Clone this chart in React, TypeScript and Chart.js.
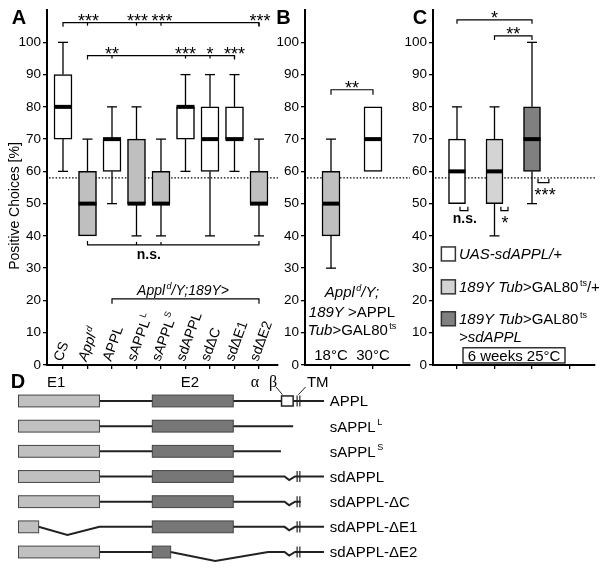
import React, { useEffect, useRef } from "react";
import { Chart, registerables } from "chart.js";
Chart.register(...registerables);

const FONT = "'Liberation Sans', Arial, Helvetica, sans-serif";
const SERIF = "'Liberation Serif', 'DejaVu Serif', serif";
const CHANCE = 58;
const Y_MAX_LABEL = 100;

// ---------------- Panel A data ----------------
const aNames = ["CS", "Appl", "APPL", "sAPPL", "sAPPL", "sdAPPL", "sdΔC", "sdΔE1", "sdΔE2"];
const aSup = ["", "d", "", "L", "S", "", "", "", ""];
const aItalic = [false, true, false, false, false, false, false, false, false];
const aMin = [60, 40, 50, 40, 40, 60, 40, 60, 40];
const aQ1 = [70, 40, 60, 50, 50, 70, 60, 70, 50];
const aMed = [80, 50, 70, 50, 50, 80, 70, 70, 50];
const aQ3 = [90, 60, 70, 70, 60, 80, 80, 80, 60];
const aMax = [100, 70, 80, 80, 70, 90, 90, 90, 70];
const aFill = ["#ffffff", "#bfbfbf", "#ffffff", "#bfbfbf", "#bfbfbf", "#ffffff", "#ffffff", "#ffffff", "#bfbfbf"];
const aTopMarks = [1, 3, 4, 8];
const aTopStars = ["***", "***", "***", "***"];
const aMidMarks = [2, 5, 6, 7];
const aMidStars = ["**", "***", "*", "***"];
const aNsMarks = [3, 4];

// ---------------- Panel B data ----------------
const bNames = ["18°C", "30°C"];
const bMin = [30, 60];
const bQ1 = [40, 60];
const bMed = [50, 70];
const bQ3 = [60, 80];
const bMax = [70, 80];
const bFill = ["#bfbfbf", "#ffffff"];

// ---------------- Panel C data ----------------
const cMin = [50, 40, 50];
const cQ1 = [50, 50, 60];
const cMed = [60, 60, 70];
const cQ3 = [70, 70, 80];
const cMax = [80, 80, 100];
const cFill = ["#ffffff", "#d4d4d4", "#808080"];

// ---------------- Panel D data (relative position along protein, %) ----------------
const dNames = ["APPL", "sAPPL", "sAPPL", "sdAPPL", "sdAPPL-ΔC", "sdAPPL-ΔE1", "sdAPPL-ΔE2"];
const dSup = ["", "L", "S", "", "", "", ""];
const dE1: [number, number][] = [[0, 26.5], [0, 26.5], [0, 26.5], [0, 26.5], [0, 26.5], [0, 6.6], [0, 26.5]];
const dE2: [number, number][] = [[43.8, 70.3], [43.8, 70.3], [43.8, 70.3], [43.8, 70.3], [43.8, 70.3], [43.8, 70.3], [43.8, 49.8]];
const dEnd = [100, 89.9, 85.9, 100, 92.4, 100, 100];
const dAlphaBeta = [true, false, false, false, false, false, false];
const dTM = [true, false, false, true, true, true, true];
const dSplice = [false, false, false, true, true, true, true];
const dDeletion: (number[] | null)[] = [null, null, null, null, null, [6.6, 16.0, 26.5, 0.32], [49.8, 64.4, 81.7, 0.36]];
const dAB = [86.1, 89.9];
const dTMpos = [91.2, 92.1];
const dSpliceV = [87.1, 88.6, 90.5, 0.14];

type Seg = { t: string; i?: boolean; b?: boolean; sup?: boolean };

function fontOf(s: Seg, size: number, fam = FONT) {
  return `${s.i ? "italic " : ""}${s.b ? "bold " : ""}${s.sup ? Math.round(size * 0.62) : size}px ${fam}`;
}

function rich(ctx: CanvasRenderingContext2D, segs: Seg[], x: number, base: number, size: number, align = "center") {
  ctx.save();
  ctx.textBaseline = "alphabetic";
  ctx.textAlign = "left";
  ctx.fillStyle = "#000";
  const ws = segs.map((s) => {
    ctx.font = fontOf(s, size);
    return ctx.measureText(s.t).width + (s.sup ? 1.5 : 0);
  });
  const total = ws.reduce((a, b) => a + b, 0);
  let cx = align === "left" ? x : align === "center" ? x - total / 2 : x - total;
  segs.forEach((s, k) => {
    ctx.font = fontOf(s, size);
    ctx.fillText(s.t, cx + (s.sup ? 1.5 : 0), s.sup ? base - size * 0.42 : base);
    cx += ws[k];
  });
  ctx.restore();
}

function line(ctx: CanvasRenderingContext2D, pts: number[][]) {
  ctx.beginPath();
  pts.forEach(([x, y], k) => (k ? ctx.lineTo(x, y) : ctx.moveTo(x, y)));
  ctx.stroke();
}

function bracket(ctx: CanvasRenderingContext2D, x0: number, x1: number, y: number, d0: number, d1: number, marks: number[], dm: number) {
  line(ctx, [[x0, y + d0], [x0, y], [x1, y], [x1, y + d1]]);
  marks.forEach((m) => line(ctx, [[m, y], [m, y + dm]]));
}

function stars(ctx: CanvasRenderingContext2D, text: string, x: number, base: number, size = 18) {
  ctx.save();
  ctx.font = `${size}px ${FONT}`;
  ctx.textAlign = "center";
  ctx.textBaseline = "alphabetic";
  ctx.fillStyle = "#000";
  ctx.fillText(text, x, base);
  ctx.restore();
}

function panelLetter(ctx: CanvasRenderingContext2D, t: string, x: number, cy: number) {
  ctx.save();
  ctx.font = `bold 20px ${FONT}`;
  ctx.textAlign = "center";
  ctx.textBaseline = "alphabetic";
  ctx.fillStyle = "#000";
  ctx.fillText(t, x, cy + 7.2);
  ctx.restore();
}

function drawChance(chart: any) {
  const { ctx, chartArea } = chart;
  const y = chart.scales.y.getPixelForValue(CHANCE);
  ctx.save();
  ctx.strokeStyle = "#000";
  ctx.lineWidth = 1.2;
  ctx.setLineDash([1.5, 1.8]);
  line(ctx, [[chartArea.left + 2, y], [chartArea.right, y]]);
  ctx.restore();
}

function drawBoxes(chart: any, mins: number[], meds: number[], maxs: number[], q1s: number[], q3s: number[], halfW: number, capHalf: number) {
  const { ctx } = chart;
  const X = chart.scales.x, Y = chart.scales.y;
  ctx.save();
  ctx.strokeStyle = "#000";
  mins.forEach((_, i) => {
    const px = X.getPixelForValue(i);
    ctx.lineWidth = 1.3;
    if (maxs[i] > q3s[i]) {
      line(ctx, [[px, Y.getPixelForValue(q3s[i])], [px, Y.getPixelForValue(maxs[i])]]);
      line(ctx, [[px - capHalf, Y.getPixelForValue(maxs[i])], [px + capHalf, Y.getPixelForValue(maxs[i])]]);
    }
    if (mins[i] < q1s[i]) {
      line(ctx, [[px, Y.getPixelForValue(q1s[i])], [px, Y.getPixelForValue(mins[i])]]);
      line(ctx, [[px - capHalf, Y.getPixelForValue(mins[i])], [px + capHalf, Y.getPixelForValue(mins[i])]]);
    }
    ctx.lineWidth = 4;
    line(ctx, [[px - halfW, Y.getPixelForValue(meds[i])], [px + halfW, Y.getPixelForValue(meds[i])]]);
  });
  ctx.restore();
}

function yAxis(width: number) {
  return {
    type: "linear",
    min: 0,
    max: 110,
    afterFit: (s: any) => {
      s.width = width;
    },
    ticks: {
      stepSize: 10,
      padding: 2,
      color: "#000",
      font: { family: FONT, size: 13.5 },
      callback: (v: any) => (v > Y_MAX_LABEL ? "" : String(v)),
    },
    grid: {
      drawOnChartArea: false,
      drawTicks: true,
      tickLength: 4,
      lineWidth: 1.3,
      color: (c: any) => (c.tick && c.tick.value > Y_MAX_LABEL ? "rgba(0,0,0,0)" : "#000"),
    },
    border: { display: true, color: "#000", width: 2 },
  };
}

function xAxis(min: number, max: number) {
  return {
    type: "linear",
    min,
    max,
    offset: false,
    afterFit: (s: any) => {
      s.height = 6;
    },
    ticks: { display: false, stepSize: 1, includeBounds: false },
    grid: { drawOnChartArea: false, drawTicks: true, tickLength: 4, color: "#000", lineWidth: 1.3, offset: false },
    border: { display: true, color: "#000", width: 2 },
  };
}

function boxConfig(q1: number[], q3: number[], fills: string[], thick: number, xMin: number, xMax: number, yW: number, padR: number, plugin: any) {
  return {
    type: "bar",
    data: {
      datasets: [
        {
          data: q1.map((v, i) => ({ x: i, y: [v, q3[i]] })),
          backgroundColor: fills,
          borderColor: "#000",
          borderWidth: 1.5,
          borderSkipped: false,
          barThickness: thick,
        },
      ],
    },
    options: {
      responsive: false,
      animation: false,
      devicePixelRatio: 1,
      layout: { padding: { top: 10, right: padR, bottom: 4, left: 0 } },
      plugins: { legend: { display: false }, tooltip: { enabled: false } },
      scales: { x: xAxis(xMin, xMax), y: yAxis(yW) },
    },
    plugins: [plugin],
  } as any;
}

// ---------------- Panel A ----------------
const plugA = {
  id: "panelA",
  beforeDatasetsDraw(chart: any) {
    drawChance(chart);
  },
  afterDatasetsDraw(chart: any) {
    drawBoxes(chart, aMin, aMed, aMax, aQ1, aQ3, 9, 5);
  },
  afterDraw(chart: any) {
    const { ctx } = chart;
    const X = (v: number) => chart.scales.x.getPixelForValue(v);
    const Y = (v: number) => chart.scales.y.getPixelForValue(v);
    ctx.save();
    ctx.strokeStyle = "#000";
    ctx.lineWidth = 1.2;
    const yTop = Y(106.1);
    bracket(ctx, X(0), X(8), yTop, 4, 4, aTopMarks.map(X), 3);
    aTopMarks.forEach((m, k) => stars(ctx, aTopStars[k], X(m) + 1, yTop + 4.5));
    const yMid = Y(95.9);
    bracket(ctx, X(1), X(7), yMid, 4, 4, aMidMarks.map(X), 3);
    aMidMarks.forEach((m, k) => stars(ctx, aMidStars[k], X(m), yMid + 4.5));
    const yNs = Y(37.2);
    bracket(ctx, X(1), X(8), yNs, -4, -4, aNsMarks.map(X), -3);
    rich(ctx, [{ t: "n.s.", b: true }], X(3.5), yNs + 14, 14, "center");
    const yG = Y(20.5);
    bracket(ctx, X(2), X(8), yG, 5, 5, [], 0);
    rich(ctx, [{ t: "Appl", i: true }, { t: "d", i: true, sup: true }, { t: "/Y;189Y>", i: true }], X(4.9), yG - 4, 14, "center");
    ctx.restore();
    aNames.forEach((n, i) => {
      ctx.save();
      ctx.translate(X(i) - 1, Y(0) - 3);
      ctx.rotate((-70 * Math.PI) / 180);
      const segs: Seg[] = [{ t: n, i: aItalic[i] }];
      if (aSup[i]) segs.push({ t: aSup[i], i: aItalic[i], sup: true });
      rich(ctx, segs, 0, 0, 14, "left");
      ctx.restore();
    });
    ctx.save();
    ctx.translate(14, 206);
    ctx.rotate(-Math.PI / 2);
    ctx.font = `14px ${FONT}`;
    ctx.textAlign = "center";
    ctx.textBaseline = "alphabetic";
    ctx.fillStyle = "#000";
    ctx.fillText("Positive Choices [%]", 0, 5);
    ctx.restore();
    panelLetter(ctx, "A", 19, 16.5);
  },
};

// ---------------- Panel B ----------------
const plugB = {
  id: "panelB",
  beforeDatasetsDraw(chart: any) {
    drawChance(chart);
  },
  afterDatasetsDraw(chart: any) {
    drawBoxes(chart, bMin, bMed, bMax, bQ1, bQ3, 9, 5);
  },
  afterDraw(chart: any) {
    const { ctx } = chart;
    const X = (v: number) => chart.scales.x.getPixelForValue(v);
    const Y = (v: number) => chart.scales.y.getPixelForValue(v);
    ctx.save();
    ctx.strokeStyle = "#000";
    ctx.lineWidth = 1.2;
    const yb = Y(85.3);
    bracket(ctx, X(0), X(1), yb, 5, 5, [], 0);
    stars(ctx, "**", X(0.5), yb + 4);
    ctx.restore();
    const cx = X(0.5);
    rich(ctx, [{ t: "Appl", i: true }, { t: "d", i: true, sup: true }, { t: "/Y;", i: true }], cx, Y(22.6) + 5.3, 15, "center");
    rich(ctx, [{ t: "189Y", i: true }, { t: " >APPL" }], cx, Y(16.4) + 5.3, 15, "center");
    rich(ctx, [{ t: "Tub", i: true }, { t: ">GAL80" }, { t: "ts", sup: true }], cx, Y(10.9) + 5.3, 15, "center");
    bNames.forEach((n, i) => rich(ctx, [{ t: n }], X(i), Y(3.1) + 5.3, 15, "center"));
    panelLetter(ctx, "B", 18.5, 16.5);
  },
};

// ---------------- Panel C ----------------
const cLegend: Seg[][] = [
  [{ t: "UAS-sdAPPL/+", i: true }],
  [{ t: "189Y Tub", i: true }, { t: ">GAL80" }, { t: "ts", sup: true }, { t: "/+" }],
  [{ t: "189Y Tub", i: true }, { t: ">GAL80" }, { t: "ts", sup: true }],
];
const cLegendY = [34.4, 24.2, 14.3];
const plugC = {
  id: "panelC",
  beforeDatasetsDraw(chart: any) {
    drawChance(chart);
  },
  afterDatasetsDraw(chart: any) {
    drawBoxes(chart, cMin, cMed, cMax, cQ1, cQ3, 8.5, 5);
  },
  afterDraw(chart: any) {
    const { ctx } = chart;
    const X = (v: number) => chart.scales.x.getPixelForValue(v);
    const Y = (v: number) => chart.scales.y.getPixelForValue(v);
    ctx.save();
    ctx.strokeStyle = "#000";
    ctx.lineWidth = 1.2;
    const y1 = Y(107);
    bracket(ctx, X(0), X(2), y1, 4, 4, [], 0);
    stars(ctx, "*", X(1), y1 + 4.5);
    const y2 = Y(102);
    bracket(ctx, X(1), X(2), y2, 4, 4, [], 0);
    stars(ctx, "**", X(1.5), y2 + 4);
    const y3 = Y(56.5);
    bracket(ctx, X(2.16), X(2.45), y3, -4, -4, [], 0);
    stars(ctx, "***", X(2.35), y3 + 18);
    const y4 = Y(47.8);
    bracket(ctx, X(0.08), X(0.29), y4, -4, -4, [], 0);
    rich(ctx, [{ t: "n.s.", b: true }], X(0.21), y4 + 12, 14, "center");
    bracket(ctx, X(1.17), X(1.36), y4, -4, -4, [], 0);
    stars(ctx, "*", X(1.28), y4 + 18);
    ctx.restore();
    const sq = 14;
    cLegend.forEach((segs, k) => {
      const cy = Y(cLegendY[k]);
      const sx = X(-0.23);
      ctx.save();
      ctx.fillStyle = cFill[k];
      ctx.strokeStyle = "#333";
      ctx.lineWidth = 1.5;
      ctx.fillRect(sx - sq / 2, cy - sq / 2, sq, sq);
      ctx.strokeRect(sx - sq / 2, cy - sq / 2, sq, sq);
      ctx.restore();
      rich(ctx, segs, X(0.053), cy + 5.4, 15, "left");
    });
    rich(ctx, [{ t: ">sdAPPL", i: true }], X(0.053), Y(8.7) + 5.4, 15, "left");
    ctx.save();
    ctx.strokeStyle = "#000";
    ctx.lineWidth = 1.2;
    const bx0 = X(0.16), bx1 = X(2.88), by0 = Y(5.3), by1 = Y(0.6);
    ctx.strokeRect(bx0, by0, bx1 - bx0, by1 - by0);
    ctx.restore();
    rich(ctx, [{ t: "6 weeks 25°C" }], X(1.52), Y(2.95) + 5.4, 15, "center");
    panelLetter(ctx, "C", 28, 16.5);
  },
};

// ---------------- Panel D ----------------
const plugD = {
  id: "panelD",
  afterDraw(chart: any) {
    const { ctx } = chart;
    const X = (v: number) => chart.scales.x.getPixelForValue(v);
    const Y = (v: number) => chart.scales.y.getPixelForValue(v);
    const rowH = Y(1) - Y(0);
    const half = rowH * 0.235;
    ctx.save();
    ctx.strokeStyle = "#222";
    ctx.lineJoin = "miter";
    dNames.forEach((name, i) => {
      const y = Y(i);
      const pts: number[][] = [[X(0), y]];
      const del = dDeletion[i];
      if (del) pts.push([X(del[0]), y], [X(del[1]), Y(i + del[3])], [X(del[2]), y]);
      if (dSplice[i]) pts.push([X(dSpliceV[0]), y], [X(dSpliceV[1]), Y(i + dSpliceV[3])], [X(dSpliceV[2]), y]);
      pts.push([X(dEnd[i]), y]);
      ctx.lineWidth = 2;
      line(ctx, pts);
      ctx.lineWidth = 1;
      ctx.strokeStyle = "#444";
      ctx.fillStyle = "#c0c0c0";
      ctx.fillRect(X(dE1[i][0]), y - half, X(dE1[i][1]) - X(dE1[i][0]), 2 * half);
      ctx.strokeRect(X(dE1[i][0]), y - half, X(dE1[i][1]) - X(dE1[i][0]), 2 * half);
      ctx.fillStyle = "#777777";
      ctx.fillRect(X(dE2[i][0]), y - half, X(dE2[i][1]) - X(dE2[i][0]), 2 * half);
      ctx.strokeRect(X(dE2[i][0]), y - half, X(dE2[i][1]) - X(dE2[i][0]), 2 * half);
      ctx.strokeStyle = "#222";
      if (dAlphaBeta[i]) {
        ctx.fillStyle = "#fff";
        ctx.lineWidth = 1.5;
        const h = rowH * 0.2;
        ctx.fillRect(X(dAB[0]), y - h, X(dAB[1]) - X(dAB[0]), 2 * h);
        ctx.strokeRect(X(dAB[0]), y - h, X(dAB[1]) - X(dAB[0]), 2 * h);
      }
      if (dTM[i]) {
        ctx.lineWidth = 1.2;
        dTMpos.forEach((p) => line(ctx, [[X(p), y - rowH * 0.22], [X(p), y + rowH * 0.22]]));
      }
      const segs: Seg[] = [{ t: name }];
      if (dSup[i]) segs.push({ t: dSup[i], sup: true });
      rich(ctx, segs, X(101.9), y + 5.4, 15, "left");
    });
    const yl = Y(-0.76) + 5.4;
    rich(ctx, [{ t: "E1" }], X(12.3), yl, 15, "center");
    rich(ctx, [{ t: "E2" }], X(56.1), yl, 15, "center");
    ctx.save();
    ctx.font = `16px ${SERIF}`;
    ctx.fillStyle = "#000";
    ctx.textAlign = "center";
    ctx.fillText("α", X(77.4), yl);
    ctx.fillText("β", X(83.3), yl);
    ctx.restore();
    rich(ctx, [{ t: "TM" }], X(94.4), yl, 15, "left");
    ctx.lineWidth = 1;
    ctx.strokeStyle = "#222";
    line(ctx, [[X(84.3), Y(-0.56)], [X(86.4), Y(-0.25)]]);
    line(ctx, [[X(94.0), Y(-0.56)], [X(91.6), Y(-0.25)]]);
    ctx.restore();
    panelLetter(ctx, "D", 18, 15);
  },
};

function dConfig() {
  return {
    type: "scatter",
    data: { datasets: [] },
    options: {
      responsive: false,
      animation: false,
      devicePixelRatio: 1,
      layout: { padding: { top: 22.4, right: 280, bottom: 8.4, left: 18.5 } },
      plugins: { legend: { display: false }, tooltip: { enabled: false } },
      scales: {
        x: { type: "linear", min: 0, max: 100, display: false },
        y: { type: "linear", min: -0.5, max: 6.5, reverse: true, display: false },
      },
    },
    plugins: [plugD],
  } as any;
}

function Panel(props: { left: number; top: number; width: number; height: number; make: () => any }) {
  const ref = useRef<HTMLCanvasElement>(null);
  useEffect(() => {
    const chart = new Chart(ref.current as HTMLCanvasElement, props.make());
    return () => chart.destroy();
  }, []);
  return (
    <canvas
      ref={ref}
      width={props.width}
      height={props.height}
      style={{ position: "absolute", left: props.left, top: props.top, width: props.width, height: props.height }}
    />
  );
}

export default function App() {
  return (
    <div style={{ position: "absolute", left: 0, top: 0, width: 604, height: 573, background: "#fff", overflow: "hidden" }}>
      <Panel left={0} top={0} width={282} height={375} make={() => boxConfig(aQ1, aQ3, aFill, 18, -0.653, 8.776, 47, 4, plugA)} />
      <Panel left={265} top={0} width={147} height={375} make={() => boxConfig(bQ1, bQ3, bFill, 18, -0.619, 1.881, 40, 2, plugB)} />
      <Panel left={392} top={0} width={212} height={375} make={() => boxConfig(cQ1, cQ3, cFill, 17, -0.64, 3.68, 41, 9, plugC)} />
      <Panel left={0} top={366} width={604} height={207} make={dConfig} />
    </div>
  );
}
